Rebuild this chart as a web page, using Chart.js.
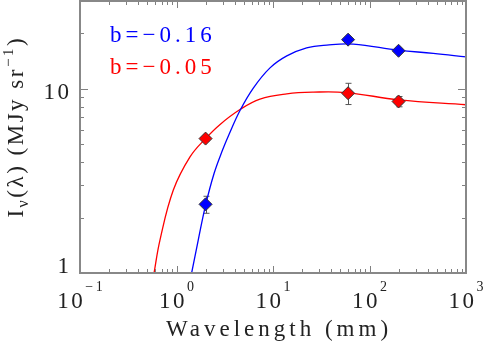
<!DOCTYPE html>
<html><head><meta charset="utf-8">
<script src="https://cdn.jsdelivr.net/npm/chart.js@4"></script>
<style>html,body{margin:0;padding:0;background:#fff}</style>
</head><body>
<canvas id="c" width="484" height="343"></canvas>
<script>
// ---- data ----
const obsWavelength = [2, 60, 200];
const blueObs = [2.36, 18.5, 16.1];
const blueErr = [0.25, 0.35, 0.35];
const redObs = [5.37, 9.47, 8.54];
const redErr = [0.15, 1.25, 0.55];

const blueCurveX = [1.435, 1.68, 2.0, 2.45, 3.0, 3.5, 4.55, 6.25, 9.31, 13.9, 22.3, 36.1, 67.9, 201, 458, 1000];
const blueCurveY = [1.0, 1.51, 2.33, 3.47, 4.65, 5.65, 7.63, 10.1, 13.0, 15.1, 16.7, 17.3, 17.5, 16.2, 15.6, 14.9];
const redCurveX = [0.585, 0.674, 0.927, 1.38, 2.0, 2.83, 4.55, 7.33, 13.9, 26.2, 57, 201, 1000];
const redCurveY = [1.0, 1.51, 2.82, 4.27, 5.37, 6.41, 7.72, 8.8, 9.4, 9.6, 9.55, 8.72, 8.2];

const xTickValues = [0.1, 1, 10, 100, 1000];
const xTickBase = ['10', '10', '10', '10', '10'];
const xTickExp = ['−1', '0', '1', '2', '3'];
const yTickValues = [1, 10];
const yTickLabels = ['1', '10'];
const legendLabels = ['b=−0.16', 'b=−0.05'];
const seriesColors = ['rgb(0,0,255)', 'rgb(255,0,0)'];

const FONT = '"Liberation Serif", "DejaVu Serif", serif';
const TXT = '#222';
let LS = 4;

function pts(xs, ys) { return xs.map((x, i) => ({x, y: ys[i]})); }

function richWidth(ctx, parts) {
  let w = 0;
  for (const p of parts) { ctx.font = p.s + 'px ' + FONT; w += ctx.measureText(p.t).width; }
  return w - LS;
}
function drawRich(ctx, parts, x, y, align) {
  ctx.letterSpacing = LS + 'px';
  const w = richWidth(ctx, parts);
  let cx = align === 'center' ? x - w / 2 : (align === 'right' ? x - w : x);
  for (const p of parts) {
    ctx.font = p.s + 'px ' + FONT;
    ctx.fillText(p.t, cx, y + (p.dy || 0));
    cx += ctx.measureText(p.t).width;
  }
}

const errPlugin = {
  id: 'errbars',
  beforeDatasetsDraw(chart) {
    const ctx = chart.ctx, xs = chart.scales.x, ys = chart.scales.y;
    ctx.save();
    ctx.strokeStyle = '#555';
    ctx.lineWidth = 1;
    [[blueObs, blueErr], [redObs, redErr]].forEach(([v, e]) => {
      obsWavelength.forEach((w, i) => {
        const px = Math.round(xs.getPixelForValue(w)) + 0.5;
        const y1 = ys.getPixelForValue(v[i] + e[i]);
        const y2 = ys.getPixelForValue(v[i] - e[i]);
        ctx.beginPath();
        ctx.moveTo(px, y1); ctx.lineTo(px, y2);
        ctx.moveTo(px - 3, y1); ctx.lineTo(px + 3, y1);
        ctx.moveTo(px - 3, y2); ctx.lineTo(px + 3, y2);
        ctx.stroke();
      });
    });
    ctx.restore();
  }
};

const framePlugin = {
  id: 'frame',
  afterDraw(chart) {
    const ctx = chart.ctx, a = chart.chartArea, xs = chart.scales.x, ys = chart.scales.y;
    ctx.save();
    ctx.strokeStyle = '#808080';
    ctx.lineWidth = 1;
    ctx.beginPath();
    for (let e = -1; e < 3; e++) {
      for (let k = 1; k <= 9; k++) {
        const v = k * Math.pow(10, e);
        const px = Math.round(xs.getPixelForValue(v)) + 0.5;
        const len = k === 1 ? 7 : 4;
        ctx.moveTo(px, a.bottom); ctx.lineTo(px, a.bottom - len);
        ctx.moveTo(px, a.top); ctx.lineTo(px, a.top + len);
      }
    }
    for (let e = 0; e < 2; e++) {
      for (let k = 1; k <= 9; k++) {
        const v = k * Math.pow(10, e);
        if (v > ys.max) break;
        const py = Math.round(ys.getPixelForValue(v)) + 0.5;
        const len = k === 1 ? 8 : 4;
        ctx.moveTo(a.left, py); ctx.lineTo(a.left + len, py);
        ctx.moveTo(a.right, py); ctx.lineTo(a.right - len, py);
      }
    }
    ctx.stroke();
    ctx.strokeStyle = '#888';
    ctx.lineWidth = 2;
    ctx.strokeRect(a.left, a.top, a.right - a.left, a.bottom - a.top);

    ctx.textAlign = 'left';
    ctx.textBaseline = 'alphabetic';
    ctx.fillStyle = TXT;
    LS = 2.5;
    xTickValues.forEach((v, i) => {
      const px = xs.getPixelForValue(v);
      drawRich(ctx, [{t: xTickBase[i], s: 23}, {t: xTickExp[i], s: 14, dy: -17}], px, a.bottom + 35, 'center');
    });
    yTickValues.forEach((v, i) => {
      const py = ys.getPixelForValue(v);
      drawRich(ctx, [{t: yTickLabels[i], s: 23}], a.left - 11, Math.min(py + 10, a.bottom), 'right');
    });
    LS = 4;
    drawRich(ctx, [{t: 'Wavelength (mm)', s: 23}], (a.left + a.right) / 2 + 4, 336, 'center');
    LS = 2.5;
    ctx.save();
    ctx.translate(23, 128);
    ctx.rotate(-Math.PI / 2);
    drawRich(ctx, [{t: 'I', s: 23}, {t: 'ν', s: 16, dy: 5}, {t: '(λ) (MJy sr', s: 23}, {t: '−1', s: 15, dy: -10}, {t: ')', s: 23}], 0, 0, 'center');
    ctx.restore();
    LS = 4;
    ctx.fillStyle = seriesColors[0];
    drawRich(ctx, [{t: legendLabels[0], s: 23}], 110, 41.5, 'left');
    ctx.fillStyle = seriesColors[1];
    drawRich(ctx, [{t: legendLabels[1], s: 23}], 110, 74, 'left');
    ctx.restore();
  }
};

new Chart(document.getElementById('c'), {
  type: 'scatter',
  data: {
    datasets: [
      {label: legendLabels[0] + ' fit', data: pts(blueCurveX, blueCurveY), showLine: true, pointRadius: 0,
       borderColor: seriesColors[0], borderWidth: 1.3, tension: 0.4, order: 2},
      {label: legendLabels[1] + ' fit', data: pts(redCurveX, redCurveY), showLine: true, pointRadius: 0,
       borderColor: seriesColors[1], borderWidth: 1.3, tension: 0.4, order: 2},
      {label: legendLabels[0], data: pts(obsWavelength, blueObs), pointStyle: 'rectRot', pointRadius: 6.5,
       backgroundColor: seriesColors[0], borderColor: '#333', borderWidth: 1, order: 0},
      {label: legendLabels[1], data: pts(obsWavelength, redObs), pointStyle: 'rectRot', pointRadius: 6.5,
       backgroundColor: seriesColors[1], borderColor: '#333', borderWidth: 1, order: 0}
    ]
  },
  options: {
    responsive: false,
    animation: false,
    devicePixelRatio: 1,
    layout: {autoPadding: false, padding: {left: 0, right: 18, top: 1, bottom: 0}},
    plugins: {legend: {display: false}, tooltip: {enabled: false}},
    scales: {
      x: {type: 'logarithmic', min: 0.1, max: 1000, grid: {display: false}, border: {display: false},
          ticks: {display: false}, afterFit: s => { s.height = 70; }},
      y: {type: 'logarithmic', min: 1, max: 30, grid: {display: false}, border: {display: false},
          ticks: {display: false}, afterFit: s => { s.width = 80; }}
    }
  },
  plugins: [errPlugin, framePlugin]
});
</script>
</body></html>
